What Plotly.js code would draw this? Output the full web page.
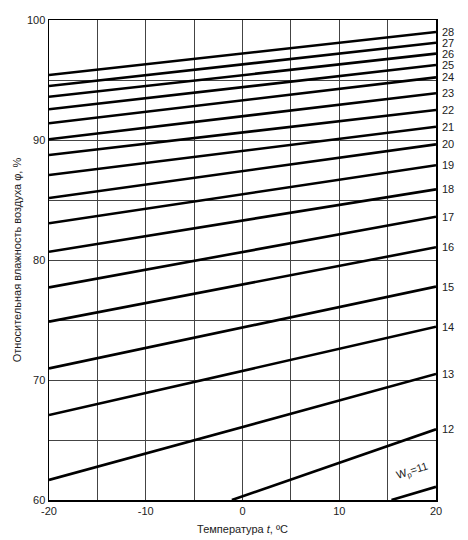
<!DOCTYPE html>
<html>
<head>
<meta charset="utf-8">
<script src="https://cdn.plot.ly/plotly-3.0.1.min.js"></script>
<style>html,body{margin:0;padding:0;background:#fff;}#chart{width:468px;height:540px;}</style>
</head>
<body>
<div id="chart"></div>
<script>
// Moisture content lines W_p (labels at right)
const wpValues = [11, 12, 13, 14, 15, 16, 17, 18, 19, 20, 21, 22, 23, 24, 25, 26, 27, 28];
// start point of each line (temperature, relative humidity)
const tStart   = [15.4, -1.1, -20, -20, -20, -20, -20, -20, -20, -20, -20, -20, -20, -20, -20, -20, -20, -20];
const phiStart = [60, 60, 61.67, 67.08, 70.97, 74.86, 77.72, 80.69, 83.06, 85.17, 87.08, 88.75, 90.06, 91.39, 92.56, 93.6, 94.5, 95.42];
// end point of each line
const tEnd     = [20, 20, 20, 20, 20, 20, 20, 20, 20, 20, 20, 20, 20, 20, 20, 20, 20, 20];
const phiEnd   = [61.1, 65.89, 70.5, 74.44, 77.78, 81.06, 83.61, 85.89, 87.9, 89.64, 91.1, 92.5, 93.9, 95.22, 96.25, 97.2, 98.1, 99.0];

const xTicks = [-20, -10, 0, 10, 20];
const yTicks = [60, 70, 80, 90, 100];

const traces = wpValues.map((w, i) => ({
  type: 'scatter', mode: 'lines',
  x: [tStart[i], tEnd[i]], y: [phiStart[i], phiEnd[i]],
  line: {color: '#000', width: 2.6},
  hoverinfo: 'skip', showlegend: false, cliponaxis: true
}));

const font = {family: '"Liberation Sans", Arial, sans-serif', size: 11, color: '#222'};

const annotations = wpValues.slice(1).map((w, k) => ({
  xref: 'paper', yref: 'y', x: 1, y: phiEnd[k + 1],
  xanchor: 'left', yanchor: 'middle', xshift: 4,
  text: String(w), showarrow: false, font: font
}));
annotations.push({
  xref: 'x', yref: 'y', x: 17.6, y: 62.4,
  text: 'W<sub>р</sub>=11', showarrow: false, textangle: -18, font: font
});

const gridColor = '#444';
const layout = {
  width: 468, height: 540,
  margin: {l: 49, r: 32, t: 20, b: 40},
  paper_bgcolor: '#fff', plot_bgcolor: '#fff',
  font: font,
  xaxis: {
    range: [-20, 20], tickvals: xTicks, ticktext: xTicks.map(String),
    showgrid: true, gridcolor: gridColor, gridwidth: 1,
    minor: {dtick: 5, tick0: -20, showgrid: true, gridcolor: gridColor, gridwidth: 1},
    zeroline: false, showline: true, linecolor: '#000', linewidth: 1.5, mirror: true,
    ticks: '', tickfont: font, automargin: false,
    title: {text: 'Температура <i>t</i>, ºC', font: font, standoff: 9}
  },
  yaxis: {
    range: [60, 100], tickvals: yTicks, ticktext: yTicks.map(String),
    showgrid: true, gridcolor: gridColor, gridwidth: 1,
    minor: {dtick: 5, tick0: 60, showgrid: true, gridcolor: gridColor, gridwidth: 1},
    zeroline: false, showline: true, linecolor: '#000', linewidth: 1.5, mirror: true,
    ticks: '', tickfont: font, automargin: false,
    title: {text: 'Относительная влажность воздуха φ, %', font: font, standoff: 3}
  },
  annotations: annotations
};

Plotly.newPlot('chart', traces, layout, {staticPlot: true, displayModeBar: false});
</script>
</body>
</html>
